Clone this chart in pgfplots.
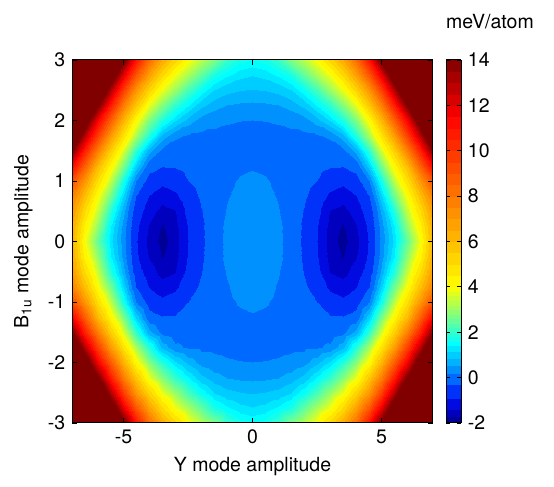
\documentclass[border=0pt]{standalone}
\usepackage{fontspec}
\setmainfont{TeX Gyre Heros}
\usepackage{pgfplots}
\usepackage{pgfplotstable}
\pgfplotsset{compat=1.18}
% one quadrant (x>=0, y>=0) of the symmetric energy map, meV/atom
\pgfplotstableread{
x y z
0 0 0.45
0.5 0 0.42
1 0 0.30
1.5 0 0.00
2 0 -0.40
2.5 0 -0.90
3 0 -1.60
3.5 0 -1.78
4 0 -1.55
4.5 0 -0.85
5 0 0.30
5.5 0 1.22
6 0 2.45
6.5 0 3.85
7 0 6.30
0 0.25 0.45
0.5 0.25 0.41
1 0.25 0.29
1.5 0.25 0.00
2 0.25 -0.38
2.5 0.25 -0.86
3 0.25 -1.56
3.5 0.25 -1.72
4 0.25 -1.43
4.5 0.25 -0.78
5 0.25 0.38
5.5 0.25 1.40
6 0.25 2.90
6.5 0.25 4.30
7 0.25 6.50
0 0.5 0.42
0.5 0.5 0.38
1 0.5 0.23
1.5 0.5 -0.02
2 0.5 -0.32
2.5 0.5 -0.72
3 0.5 -1.42
3.5 0.5 -1.56
4 0.5 -1.18
4.5 0.5 -0.60
5 0.5 0.60
5.5 0.5 1.85
6 0.5 3.40
6.5 0.5 5.00
7 0.5 7.00
0 0.75 0.37
0.5 0.75 0.33
1 0.75 0.17
1.5 0.75 -0.03
2 0.75 -0.23
2.5 0.75 -0.50
3 0.75 -1.02
3.5 0.75 -1.20
4 0.75 -0.92
4.5 0.75 -0.30
5 0.75 1.05
5.5 0.75 2.55
6 0.75 3.95
6.5 0.75 5.85
7 0.75 7.75
0 1 0.28
0.5 1 0.24
1 1 0.12
1.5 1 -0.03
2 1 -0.14
2.5 1 -0.30
3 1 -0.60
3.5 1 -0.75
4 1 -0.52
4.5 1 0.20
5 1 1.65
5.5 1 3.30
6 1 4.90
6.5 1 7.05
7 1 9.20
0 1.25 0.17
0.5 1.25 0.13
1 1.25 0.06
1.5 1.25 -0.01
2 1.25 -0.06
2.5 1.25 -0.13
3 1.25 -0.26
3.5 1.25 -0.27
4 1.25 -0.08
4.5 1.25 1.05
5 1.25 2.60
5.5 1.25 4.15
6 1.25 6.00
6.5 1.25 8.65
7 1.25 11.45
0 1.5 0.07
0.5 1.5 0.06
1 1.5 0.04
1.5 1.5 0.03
2 1.5 0.02
2.5 1.5 0.00
3 1.5 -0.05
3.5 1.5 0.08
4 1.5 0.65
4.5 1.5 1.95
5 1.5 3.50
5.5 1.5 5.35
6 1.5 7.70
6.5 1.5 10.50
7 1.5 14.00
0 1.75 0.08
0.5 1.75 0.08
1 1.75 0.10
1.5 1.75 0.12
2 1.75 0.12
2.5 1.75 0.15
3 1.75 0.28
3.5 1.75 0.75
4 1.75 1.85
4.5 1.75 3.10
5 1.75 4.70
5.5 1.75 6.85
6 1.75 9.60
6.5 1.75 12.80
7 1.75 16.50
0 2 0.20
0.5 2 0.21
1 2 0.24
1.5 2 0.30
2 2 0.42
2.5 2 0.75
3 2 1.20
3.5 2 1.85
4 2 2.75
4.5 2 4.10
5 2 6.10
5.5 2 8.70
6 2 11.55
6.5 2 15.30
7 2 19.00
0 2.25 0.48
0.5 2.25 0.50
1 2.25 0.55
1.5 2.25 0.70
2 2.25 0.95
2.5 2.25 1.45
3 2.25 2.00
3.5 2.25 2.80
4 2.25 3.80
4.5 2.25 5.70
5 2.25 7.75
5.5 2.25 10.70
6 2.25 14.20
6.5 2.25 17.80
7 2.25 21.50
0 2.5 0.83
0.5 2.5 0.87
1 2.5 0.95
1.5 2.5 1.15
2 2.5 1.60
2.5 2.5 2.20
3 2.5 3.00
3.5 2.5 3.80
4 2.5 5.30
4.5 2.5 7.10
5 2.5 9.60
5.5 2.5 13.00
6 2.5 16.80
6.5 2.5 20.50
7 2.5 24.00
0 2.75 1.17
0.5 2.75 1.25
1 2.75 1.45
1.5 2.75 1.75
2 2.75 2.45
2.5 2.75 3.15
3 2.75 3.85
3.5 2.75 5.10
4 2.75 6.80
4.5 2.75 9.00
5 2.75 11.80
5.5 2.75 15.50
6 2.75 19.40
6.5 2.75 23.00
7 2.75 26.50
0 3 1.60
0.5 3 1.70
1 3 2.05
1.5 3 2.75
2 3 3.30
2.5 3 4.00
3 3 5.20
3.5 3 6.50
4 3 8.30
4.5 3 11.00
5 3 14.40
5.5 3 18.00
6 3 22.00
6.5 3 26.00
7 3 29.00
}\quadrant

\pgfplotsset{
  colormap={meVjet}{
    rgb255(0cm)=(0,0,150);
    rgb255(0.3cm)=(0,0,190);
    rgb255(0.6cm)=(0,10,225);
    rgb255(1.1cm)=(0,50,250);
    rgb255(1.7cm)=(0,105,255);
    rgb255(2.2cm)=(0,145,255);
    rgb255(2.55cm)=(0,178,255);
    rgb255(2.85cm)=(0,205,255);
    rgb255(3.15cm)=(0,232,255);
    rgb255(3.4cm)=(0,255,255);
    rgb255(3.6cm)=(20,255,235);
    rgb255(3.8cm)=(41,255,214);
    rgb255(4cm)=(61,255,194);
    rgb255(4.2cm)=(82,255,173);
    rgb255(4.4cm)=(102,255,153);
    rgb255(4.6cm)=(122,255,133);
    rgb255(4.8cm)=(143,255,112);
    rgb255(5cm)=(163,255,92);
    rgb255(5.2cm)=(184,255,71);
    rgb255(5.4cm)=(204,255,51);
    rgb255(5.6cm)=(224,255,31);
    rgb255(5.8cm)=(245,255,10);
    rgb255(6cm)=(255,246,0);
    rgb255(6.5cm)=(255,230,0);
    rgb255(7cm)=(255,213,0);
    rgb255(7.5cm)=(255,196,0);
    rgb255(8cm)=(255,179,0);
    rgb255(8.5cm)=(255,162,0);
    rgb255(9cm)=(255,145,0);
    rgb255(9.5cm)=(255,128,0);
    rgb255(10cm)=(255,111,0);
    rgb255(10.5cm)=(255,94,0);
    rgb255(11cm)=(255,77,0);
    rgb255(11.5cm)=(255,60,0);
    rgb255(12cm)=(255,43,0);
    rgb255(12.5cm)=(255,26,0);
    rgb255(13cm)=(255,9,0);
    rgb255(13.5cm)=(242,0,0);
    rgb255(14cm)=(217,0,0);
    rgb255(14.5cm)=(191,0,0);
    rgb255(15cm)=(166,0,0);
    rgb255(15.5cm)=(140,0,0);
    rgb255(16cm)=(128,0,0);
    rgb255(22cm)=(128,0,0)
  }
}

\begin{document}
\fontsize{9.75}{11}\selectfont
\begin{tikzpicture}
\begin{axis}[
  name=main,
  scale only axis,
  width=180.5pt, height=181.5pt,
  view={0}{90},
  xmin=-7, xmax=7, ymin=-3, ymax=3,
  enlargelimits=false,
  axis on top,
  colormap name=meVjet,
  colormap access=piecewise constant,
  point meta min=-2, point meta max=20,
  xtick={-5,0,5}, xticklabels={-5,0,5},
  ytick={-3,-2,-1,0,1,2,3}, yticklabels={-3,-2,-1,0,1,2,3},
  ztick=\empty,
  tick align=inside,
  major tick length=2.5pt,
  tick style={black, line width=0.4pt},
  axis line style={black, line width=0.5pt},
  ticklabel style={font=\fontsize{9.75}{11}\selectfont},
  xlabel={Y mode amplitude},
  ylabel={B\textsubscript{1u} mode amplitude},
  label style={font=\fontsize{9.75}{11}\selectfont},
  xlabel style={at={(axis description cs:0.5,-0.121)}, anchor=center},
  ylabel style={at={(axis description cs:-0.135,0.5)}, anchor=center},
  colorbar,
  colorbar style={
    at={(parent axis.north east)}, anchor=north west, xshift=-2pt,
    width=7.5pt,
    ymin=-2, ymax=14,
    ytick={-2,0,2,4,6,8,10,12,14},
    yticklabels={-2,0,2,4,6,8,10,12,14},
    yticklabel style={font=\fontsize{9.75}{11}\selectfont},
    tick align=inside,
    major tick length=2pt,
    axis line style={black, line width=0.5pt},
  },
]
\addplot3[surf, shader=interp, mesh/rows=13, mesh/cols=15, point meta=\thisrow{z}]
  table[x=x, y=y, z=z] {\quadrant};
\addplot3[surf, shader=interp, mesh/rows=13, mesh/cols=15, point meta=\thisrow{z}]
  table[x expr=-\thisrow{x}, y=y, z=z] {\quadrant};
\addplot3[surf, shader=interp, mesh/rows=13, mesh/cols=15, point meta=\thisrow{z}]
  table[x=x, y expr=-\thisrow{y}, z=z] {\quadrant};
\addplot3[surf, shader=interp, mesh/rows=13, mesh/cols=15, point meta=\thisrow{z}]
  table[x expr=-\thisrow{x}, y expr=-\thisrow{y}, z=z] {\quadrant};
\end{axis}
\node[font=\fontsize{9.75}{11}\selectfont] at ([shift={(28.5pt,19pt)}]main.north east) {meV/atom};
\path ([shift={(-36pt,-32pt)}]main.south west) rectangle ([shift={(60.5pt,30pt)}]main.north east);
\end{tikzpicture}
\end{document}
